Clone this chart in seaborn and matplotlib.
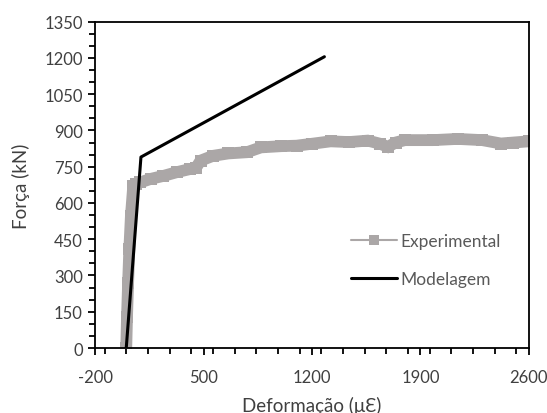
import numpy as np
import pandas as pd
import matplotlib
matplotlib.use("Agg")
import matplotlib.pyplot as plt
from matplotlib.lines import Line2D
from matplotlib.ticker import MultipleLocator, FixedLocator
import seaborn as sns

# Experimental curve
exp_strain = [0, 5, 12, 20, 30, 45, 60, 90, 160, 240, 330, 410, 450, 480, 560,
              660, 780, 870, 1000, 1100, 1200, 1320, 1440, 1560, 1640, 1690,
              1740, 1800, 1980, 2140, 2300, 2420, 2500, 2600]
exp_force = [0, 130, 270, 410, 545, 670, 680, 685, 700, 712, 728, 740, 745, 775,
             795, 805, 810, 830, 835, 837, 845, 855, 852, 858, 845, 832, 850,
             860, 860, 865, 860, 846, 850, 855]

# Bilinear model
mod_strain = [0, 95, 1280]
mod_force = [0, 790, 1205]

GRAY = "#ABA7A7"
TEXT = "#404040"

sns.set_style("ticks")
plt.rcParams["font.family"] = ["Lato", "DejaVu Sans"]
plt.rcParams["axes.unicode_minus"] = False

fig = plt.figure(figsize=(5.47, 4.14), dpi=100)
ax = fig.add_axes([0.1742, 0.157, 0.7924, 0.7882])

df_exp = pd.DataFrame({"x": exp_strain, "y": exp_force})
df_mod = pd.DataFrame({"x": mod_strain, "y": mod_force})

sns.lineplot(data=df_exp, x="x", y="y", ax=ax, sort=False, color=GRAY,
             linewidth=8.5, solid_capstyle="butt", solid_joinstyle="miter",
             marker="s", markersize=8, markeredgewidth=0, zorder=2)
sns.lineplot(data=df_mod, x="x", y="y", ax=ax, sort=False, color="black",
             linewidth=2.2, zorder=3)

ax.set_xlim(-200, 2600)
ax.set_ylim(0, 1350)
ax.xaxis.set_major_locator(FixedLocator([-200, 500, 1200, 1900, 2600]))
ax.xaxis.set_minor_locator(MultipleLocator(140))
ax.yaxis.set_major_locator(MultipleLocator(150))
ax.yaxis.set_minor_locator(MultipleLocator(50))

for s in ax.spines.values():
    s.set_visible(True)
    s.set_color("black")
    s.set_linewidth(1.3)

ax.tick_params(which="both", direction="out", color="black", width=1.3,
               labelsize=12, labelcolor=TEXT)
ax.tick_params(which="major", length=5)
ax.tick_params(which="minor", length=4)
ax.tick_params(axis="x", which="major", pad=10)
ax.tick_params(axis="y", which="major", pad=4)

ax.set_xlabel("Deformação (\u03bc\u0190)", fontsize=13.5, color=TEXT, labelpad=8)
ax.set_ylabel("Força (kN)", fontsize=13.5, color=TEXT, labelpad=10)

handles = [
    Line2D([0], [0], color=GRAY, lw=1.5, marker="s", markersize=7,
           markeredgewidth=0),
    Line2D([0], [0], color="black", lw=2.2),
]
leg = ax.legend(handles, ["Experimental", "Modelagem"], loc="center left",
                bbox_to_anchor=(0.555, 0.27), frameon=False, fontsize=12.5,
                handlelength=2.6, handletextpad=0.2, labelspacing=1.3)
for t in leg.get_texts():
    t.set_color("#595959")

fig.savefig("out.png", dpi=100)
